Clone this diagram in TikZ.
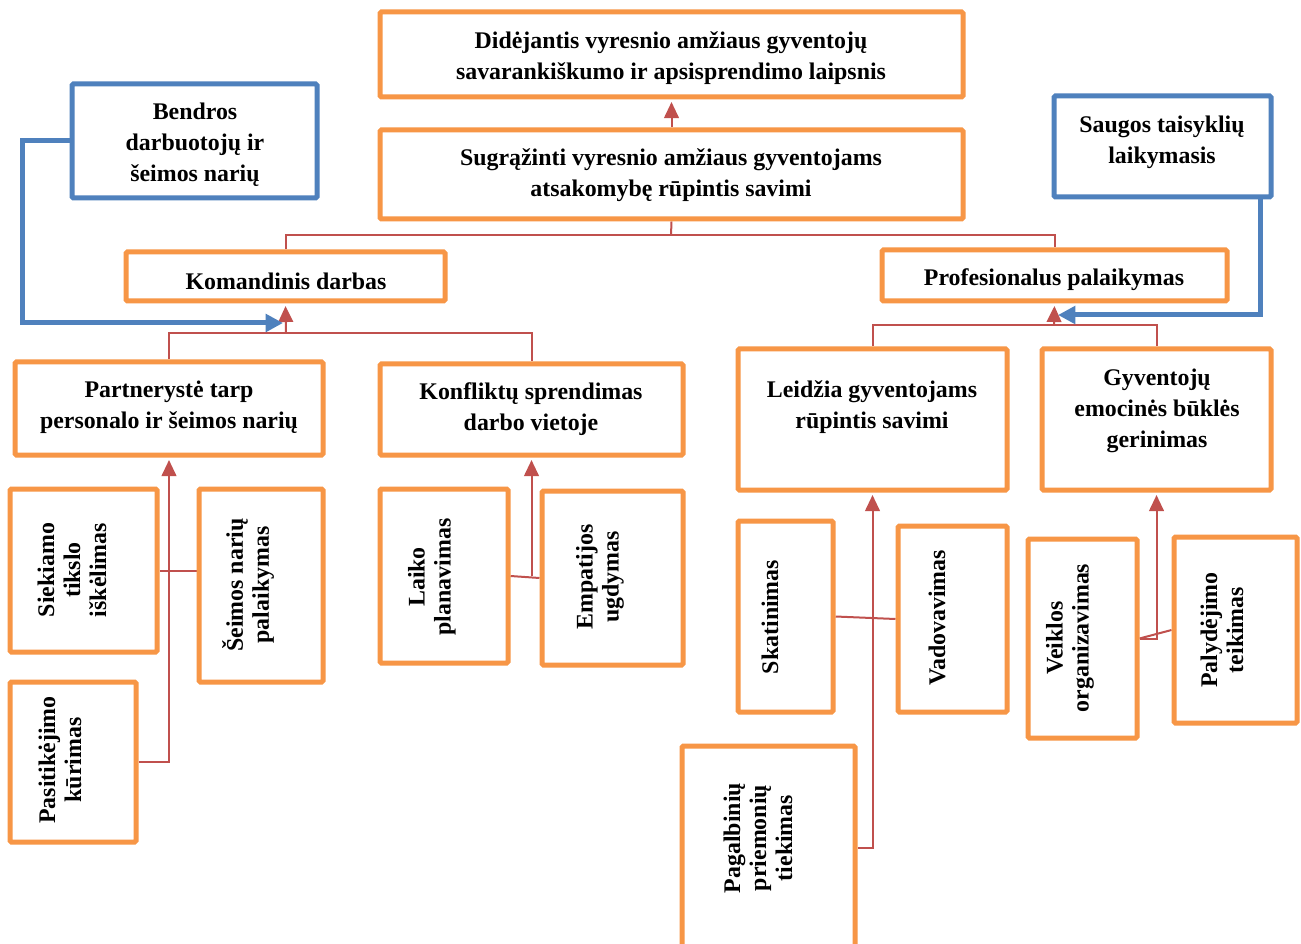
\documentclass[tikz,border=0pt]{standalone}
\usepackage{fontspec}
\setmainfont{Liberation Serif}
\usetikzlibrary{arrows.meta,calc}
\definecolor{boxorange}{HTML}{F79646}
\definecolor{boxblue}{HTML}{4F81BD}
\definecolor{linkred}{HTML}{C0504D}
\pgfdeclarelayer{bg}
\pgfsetlayers{bg,main}

% \boxat{name}{x1}{y1}{x2}{y2}{style}: an empty framed node spanning the given corners
\newcommand{\boxat}[6]{%
  \pgfmathsetmacro\bxw{(#4-#2)*0.75}%
  \pgfmathsetmacro\bxh{(#5-#3)*0.75}%
  \node[#6, minimum width=\bxw pt, minimum height=\bxh pt] (#1) at ({(#2+#4)/2},{(#3+#5)/2}) {};}

\begin{document}
\begin{tikzpicture}[x=0.75pt,y=-0.75pt,
  obox/.style={draw=boxorange, line width=3.75pt, rounded corners=1pt, fill=white, inner sep=0pt},
  bbox/.style={draw=boxblue, line width=3.75pt, rounded corners=1pt, fill=white, inner sep=0pt},
  txt/.style={font=\bfseries\fontsize{17.9pt}{23.25pt}\selectfont, align=center, inner sep=0pt, yshift=-1.5pt},
  vtxt/.style={font=\bfseries\fontsize{17.9pt}{19.5pt}\selectfont, align=center, inner sep=0pt, rotate=90},
  link/.style={draw=linkred, line width=1.5pt},
  uparr/.style={link, -{Triangle[length=12pt,width=11pt]}, shorten >=1.9pt},
  bluelink/.style={draw=boxblue, line width=3.75pt, -{Triangle[length=13pt,width=13pt]}},
  shadowline/.style={draw=black!35, line width=3.75pt, opacity=0.45}]

\clip (0,0) rectangle (1301,944);

% outcome chain
\boxat{A}{380}{12}{963}{97}{obox}
\node[txt] (At) at (671,56) {Didėjantis vyresnio amžiaus gyventojų\\savarankiškumo ir apsisprendimo laipsnis};
\boxat{B}{380}{130}{963}{219}{obox}
\node[txt] (Bt) at (671,173) {Sugrąžinti vyresnio amžiaus gyventojams\\atsakomybę rūpintis savimi};

% supporting conditions
\boxat{C}{72}{84}{317}{198}{bbox}
\node[txt] (Ct) at (195,143) {Bendros\\darbuotojų ir\\šeimos narių};
\boxat{D}{1054}{96}{1271}{197}{bbox}
\node[txt] (Dt) at (1162,140) {Saugos taisyklių\\laikymasis};

% two main branches
\boxat{E}{126}{252}{445}{301}{obox}
\node[txt] (Et) at (286,279) {Komandinis darbas};
\boxat{F}{882}{250}{1227}{301}{obox}
\node[txt] (Ft) at (1054,278) {Profesionalus palaikymas};

% second level
\boxat{I}{15}{362}{323}{455}{obox}
\node[txt] (It) at (169,405) {Partnerystė tarp\\personalo ir šeimos narių};
\boxat{J}{380}{364}{683}{455}{obox}
\node[txt] (Jt) at (531,407) {Konfliktų sprendimas\\darbo vietoje};
\boxat{G}{738}{349}{1007}{490}{obox}
\node[txt] (Gt) at (872,405) {Leidžia gyventojams\\rūpintis savimi};
\boxat{H}{1042}{349}{1271}{490}{obox}
\node[txt] (Ht) at (1157,409) {Gyventojų\\emocinės būklės\\gerinimas};

% third level (vertical labels)
\boxat{K}{10}{489}{157}{652}{obox}
\node[vtxt] (Kt) at (72,570) {Siekiamo\\tikslo\\iškėlimas};
\boxat{L}{199}{489}{323}{682}{obox}
\node[vtxt] (Lt) at (248,585) {Šeimos narių\\palaikymas};
\boxat{M}{10}{682}{136}{842}{obox}
\node[vtxt] (Mt) at (60,760) {Pasitikėjimo\\kūrimas};
\boxat{N}{380}{489}{508}{663}{obox}
\node[vtxt] (Nt) at (432,577) {Laiko\\planavimas};
\boxat{O}{542}{491}{683}{665}{obox}
\node[vtxt] (Ot) at (600,577) {Empatijos\\ugdymas};
\boxat{P}{738}{521}{833}{712}{obox}
\node[vtxt] (Pt) at (770,617) {Skatinimas};
\boxat{Q}{898}{526}{1007}{712}{obox}
\node[vtxt] (Qt) at (937,618) {Vadovavimas};
\boxat{R}{682}{746}{855}{950}{obox}
\node[vtxt] (Rt) at (758,838) {Pagalbinių\\priemonių\\tiekimas};
\boxat{S}{1028}{539}{1137}{738}{obox}
\node[vtxt] (St) at (1070,638) {Veiklos\\organizavimas};
\boxat{T}{1174}{537}{1297}{723}{obox}
\node[vtxt] (Tt) at (1222,630) {Palydėjimo\\teikimas};

\coordinate (jt) at (671,235);
\coordinate (jl) at (286,333);
\coordinate (jr) at (1054,325);
\coordinate (eIn) at (283,323);
\coordinate (fIn) at (1058,315);

\begin{pgfonlayer}{bg}
  \fill[white] (0,0) rectangle (1301,944);
  % top level
  \draw[uparr] (B.north) -- (A.south);
  \draw[link] (B.south) -- (jt);
  \draw[link] (E.north) |- (jt) -| (F.north);
  % left branch
  \draw[link] (I.north) |- (jl) -| (J.north);
  \draw[uparr] (jl) -- (E.south);
  \draw[link] (K.east) -- (K.east -| L.west);
  \draw[uparr] (M.east) -| (I.south);
  \draw[link] (N.east) -- (O.west);
  \draw[uparr] (N.east -| J.south) -- (J.south);
  % right branch
  \draw[link] (G.north) |- (jr) -| (H.north);
  \draw[uparr] (jr) -- (F.south);
  \draw[link] (P.east) -- (Q.west);
  \draw[uparr] (R.east) -| (G.south);
  \draw[link] (S.east) -- (T.west);
  \draw[uparr] (S.east) -| (H.south);
  % blue feeds with their soft shadows
  \draw[shadowline, shift={(2,3)}] (C.west) -- ++(-47,0) |- ($(eIn)+(-8,0)$);
  \draw[shadowline, shift={(2,3)}] ($(D.south east)+(-13,0)$) |- ($(fIn)+(8,0)$);
  \draw[bluelink] (C.west) -- ++(-47,0) |- (eIn);
  \draw[bluelink] ($(D.south east)+(-13,0)$) |- (fIn);
\end{pgfonlayer}
\end{tikzpicture}
\end{document}
